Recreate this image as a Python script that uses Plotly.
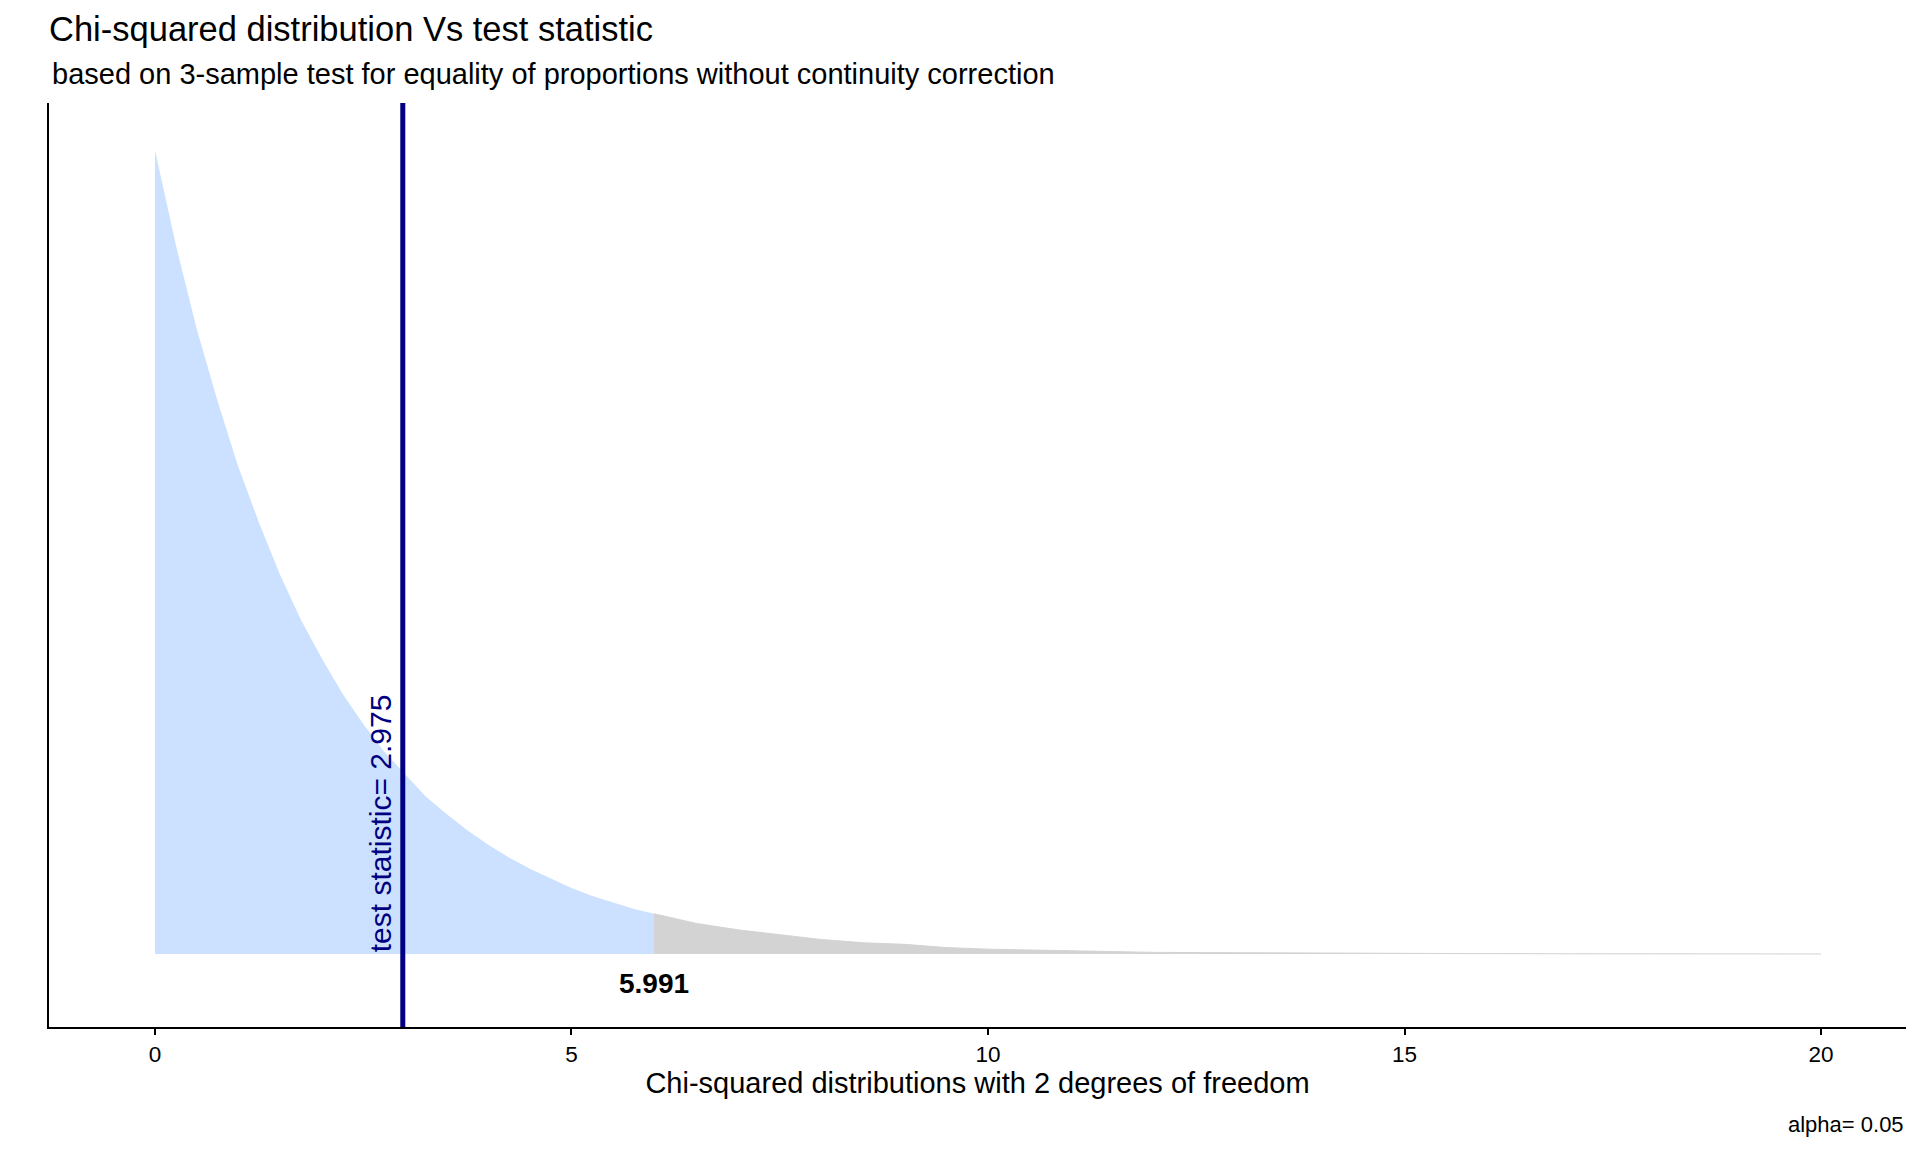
import plotly.graph_objects as go

# chi-squared density (2 df)
x_accept = [0, 0.25, 0.5, 0.75, 1, 1.25, 1.5, 1.75, 2, 2.25, 2.5, 2.75, 3, 3.25,
            3.5, 3.75, 4, 4.25, 4.5, 4.75, 5, 5.25, 5.5, 5.75, 5.991]
y_accept = [0.500, 0.441, 0.389, 0.344, 0.303, 0.268, 0.236, 0.208, 0.184, 0.162,
            0.143, 0.126, 0.112, 0.098, 0.087, 0.077, 0.068, 0.060, 0.053, 0.047,
            0.041, 0.036, 0.032, 0.028, 0.025]
x_reject = [5.991, 6.5, 7, 7.5, 8, 8.5, 9, 9.5, 10, 11, 12, 13, 14, 16, 18, 20]
y_reject = [0.025, 0.019, 0.015, 0.012, 0.009, 0.007, 0.006, 0.004, 0.003,
            0.002, 0.001, 0.0008, 0.0005, 0.0002, 0.0001, 0.00002]

test_stat = 2.975
crit_value = 5.991
df = 2
alpha = 0.05

FONT = "Liberation Sans, Arial, sans-serif"

fig = go.Figure()
fig.add_trace(go.Scatter(x=x_accept, y=y_accept, mode="lines", fill="tozeroy",
                         fillcolor="#cce0ff", line=dict(width=0), hoverinfo="skip"))
fig.add_trace(go.Scatter(x=x_reject, y=y_reject, mode="lines", fill="tozeroy",
                         fillcolor="#d3d3d3", line=dict(width=1, color="#d3d3d3"),
                         hoverinfo="skip"))

fig.add_shape(type="line", xref="x", yref="paper", x0=test_stat, x1=test_stat,
              y0=0, y1=1, line=dict(color="#000080", width=5))

fig.add_annotation(x=test_stat, y=0, xref="x", yref="y", text=f"test statistic= {test_stat}",
                   textangle=-90, xanchor="right", yanchor="bottom", xshift=-3,
                   showarrow=False, font=dict(family=FONT, size=30, color="#000080"))
fig.add_annotation(x=crit_value, y=-0.0185, xref="x", yref="y", text=f"<b>{crit_value}</b>",
                   showarrow=False, font=dict(family=FONT, size=28, color="black"))
fig.add_annotation(x=0.0005, y=1.031, xref="paper", yref="paper", xanchor="left",
                   yanchor="middle", showarrow=False,
                   text="based on 3-sample test for equality of proportions without continuity correction",
                   font=dict(family=FONT, size=29, color="black"))
fig.add_annotation(x=1, y=-0.1055, xref="paper", yref="paper", xanchor="right",
                   yanchor="middle", showarrow=False, text=f"alpha= {alpha}",
                   font=dict(family=FONT, size=22, color="black"))

# page body has an 8px margin, so the figure is shifted and shrunk to fit
fig.update_layout(
    width=1904, height=1136,
    margin=dict(l=41, r=6, t=95, b=117),
    plot_bgcolor="white", paper_bgcolor="white",
    showlegend=False,
    title=dict(text="Chi-squared distribution Vs test statistic", xref="container",
               x=41 / 1904, xanchor="left", y=1 - 21 / 1136, yanchor="middle",
               font=dict(family=FONT, size=34.5, color="black")),
    font=dict(family=FONT),
)
fig.update_xaxes(range=[-1.272, 21.02], tickvals=[0, 5, 10, 15, 20], showgrid=False,
                 zeroline=False, showline=True, linecolor="black", linewidth=2,
                 ticks="outside", ticklen=6, tickwidth=2, tickcolor="black",
                 tickfont=dict(family=FONT, size=22.5, color="black"),
                 title=dict(text=f"Chi-squared distributions with {df} degrees of freedom",
                            standoff=7, font=dict(family=FONT, size=29, color="black")))
fig.update_yaxes(range=[-0.0454, 0.5292], showgrid=False, zeroline=False, showline=True,
                 linecolor="black", linewidth=2, showticklabels=False, ticks="")

fig.write_html("out.html")
